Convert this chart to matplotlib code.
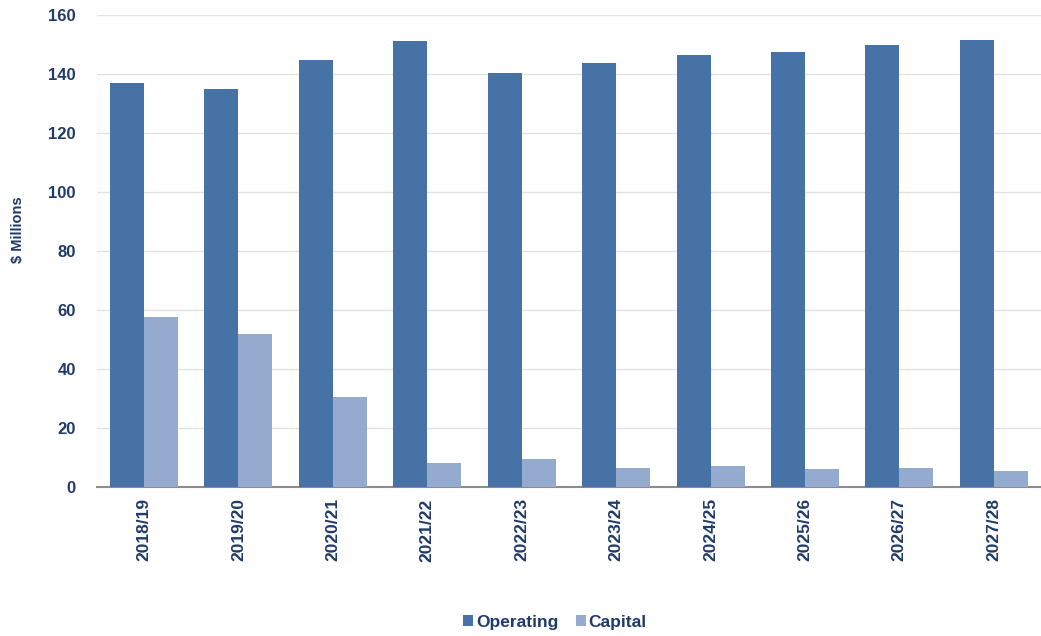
import numpy as np
import matplotlib
matplotlib.use("Agg")
import matplotlib.pyplot as plt

plt.rcParams['font.family'] = ['Liberation Sans', 'DejaVu Sans']

years = ['2018/19', '2019/20', '2020/21', '2021/22', '2022/23',
         '2023/24', '2024/25', '2025/26', '2026/27', '2027/28']
operating = [137, 135, 144.7, 151.2, 140.4, 143.8, 146.4, 147.5, 149.8, 151.6]
capital = [57.8, 52, 30.6, 8.1, 9.5, 6.4, 7.1, 6.1, 6.4, 5.5]

text_col = '#1F3A6B'
op_col = '#4672A6'
cap_col = '#94AACF'

fig = plt.figure(figsize=(10.41, 6.36), dpi=100)
ax = fig.add_axes([0.093, 0.234, 0.907, 0.742])

x = np.arange(len(years))
w = 0.36
ax.bar(x - w / 2, operating, w, color=op_col, label='Operating', zorder=3)
ax.bar(x + w / 2, capital, w, color=cap_col, label='Capital', zorder=3)

ax.set_xlim(-0.5, len(years) - 0.5)
ax.set_ylim(0, 160)
ax.set_yticks(range(0, 161, 20))
ax.yaxis.grid(True, color='#E3E3E3', linewidth=1, zorder=0)
ax.set_axisbelow(True)

for s in ['top', 'right', 'left']:
    ax.spines[s].set_visible(False)
ax.spines['bottom'].set_color('#8C8C8C')
ax.spines['bottom'].set_linewidth(1.5)

ax.set_xticks(x)
ax.set_xticklabels(years, rotation=90, fontsize=12.5, fontweight='bold', color=text_col)
ax.tick_params(axis='x', length=0, pad=8)
ax.tick_params(axis='y', length=0, pad=15, labelsize=12, labelcolor=text_col)
for lbl in ax.get_yticklabels():
    lbl.set_fontweight('bold')

fig.text(18 / 1041, 1 - 230 / 636, '$ Millions', rotation=90, ha='center', va='center',
         fontsize=10.5, fontweight='bold', color=text_col)

fig.legend(loc='center', bbox_to_anchor=(0.533, 1 - 622 / 636), ncol=2, frameon=False,
           prop={'size': 12.5, 'weight': 'bold'}, labelcolor=text_col,
           handlelength=0.6, handleheight=0.6, handletextpad=0.15, columnspacing=1.0)

fig.savefig('out.png', dpi=100)
